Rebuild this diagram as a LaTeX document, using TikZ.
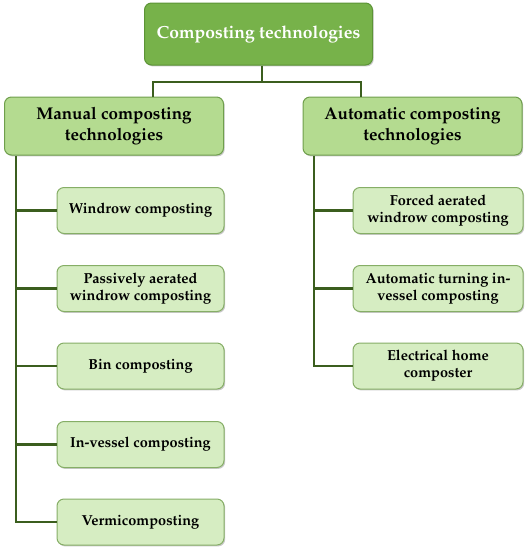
\documentclass[tikz,border=0pt]{standalone}
\usepackage[T1]{fontenc}
\renewcommand{\rmdefault}{ppl}
\usetikzlibrary{shadows}
\definecolor{topfill}{HTML}{77B24A}
\definecolor{topdraw}{HTML}{5C9436}
\definecolor{midfill}{HTML}{B4DB90}
\definecolor{middraw}{HTML}{6F9F4C}
\definecolor{leaffill}{HTML}{D6EDC2}
\definecolor{leafdraw}{HTML}{86AE66}
\definecolor{conncol}{HTML}{3B5E1E}
\tikzset{
  box/.style={rounded corners=7pt, align=center, line width=1pt,
    drop shadow={shadow xshift=1.2pt, shadow yshift=-1.4pt, opacity=0.35, fill=black!60}},
  topbox/.style={box, fill=topfill, draw=topdraw, text=white,
    minimum width=228pt, minimum height=62pt, font=\bfseries\fontsize{17.5}{21}\selectfont},
  midbox/.style={box, fill=midfill, draw=middraw, text=black,
    minimum width=219pt, minimum height=58pt, font=\bfseries\fontsize{17}{21}\selectfont},
  leafbox/.style={box, fill=leaffill, draw=leafdraw, text=black,
    minimum height=46pt, font=\bfseries\fontsize{14.5}{17}\selectfont},
  mleaf/.style={leafbox, minimum width=167pt},
  aleaf/.style={leafbox, minimum width=170pt},
  conn/.style={draw=conncol, line width=2.6pt}
}
\begin{document}
\begin{tikzpicture}[x=1pt,y=-1pt]
\useasboundingbox (0,0) rectangle (525,550);
\coordinate (j) at (262,82);
\coordinate (jl) at (153,82);
\coordinate (jr) at (361,82);
\coordinate (ms) at (16,0);
\coordinate (as) at (314,0);

\node[topbox] (top) at (258.5,34) {Composting technologies};
\node[midbox] (man) at (114,126) {Manual composting\\technologies};
\node[midbox] (aut) at (412.5,126) {Automatic composting\\technologies};

\node[mleaf] (wind) at (140.5,210.5) {Windrow composting};
\node[mleaf] (pass) at (140.5,288.5) {Passively aerated\\windrow composting};
\node[mleaf] (bin) at (140.5,366) {Bin composting};
\node[mleaf] (inv) at (140.5,444.5) {In-vessel composting};
\node[mleaf] (verm) at (140.5,522) {Vermicomposting};

\node[aleaf] (forc) at (438,210.5) {Forced aerated\\windrow composting};
\node[aleaf] (auto) at (438,288.5) {Automatic turning in-\\vessel composting};
\node[aleaf] (elec) at (438,366) {Electrical home\\composter};

\draw[conn] (top.south -| j) -- (j);
\draw[conn] (man.north -| jl) -- (jl) -- (jr) -- (aut.north -| jr);
\draw[conn] (man.south -| ms) |- (verm.west);
\draw[conn] (ms |- wind.west) -- (wind.west);
\draw[conn] (ms |- pass.west) -- (pass.west);
\draw[conn] (ms |- bin.west) -- (bin.west);
\draw[conn] (ms |- inv.west) -- (inv.west);
\draw[conn] (aut.south -| as) |- (elec.west);
\draw[conn] (as |- forc.west) -- (forc.west);
\draw[conn] (as |- auto.west) -- (auto.west);
\end{tikzpicture}
\end{document}
